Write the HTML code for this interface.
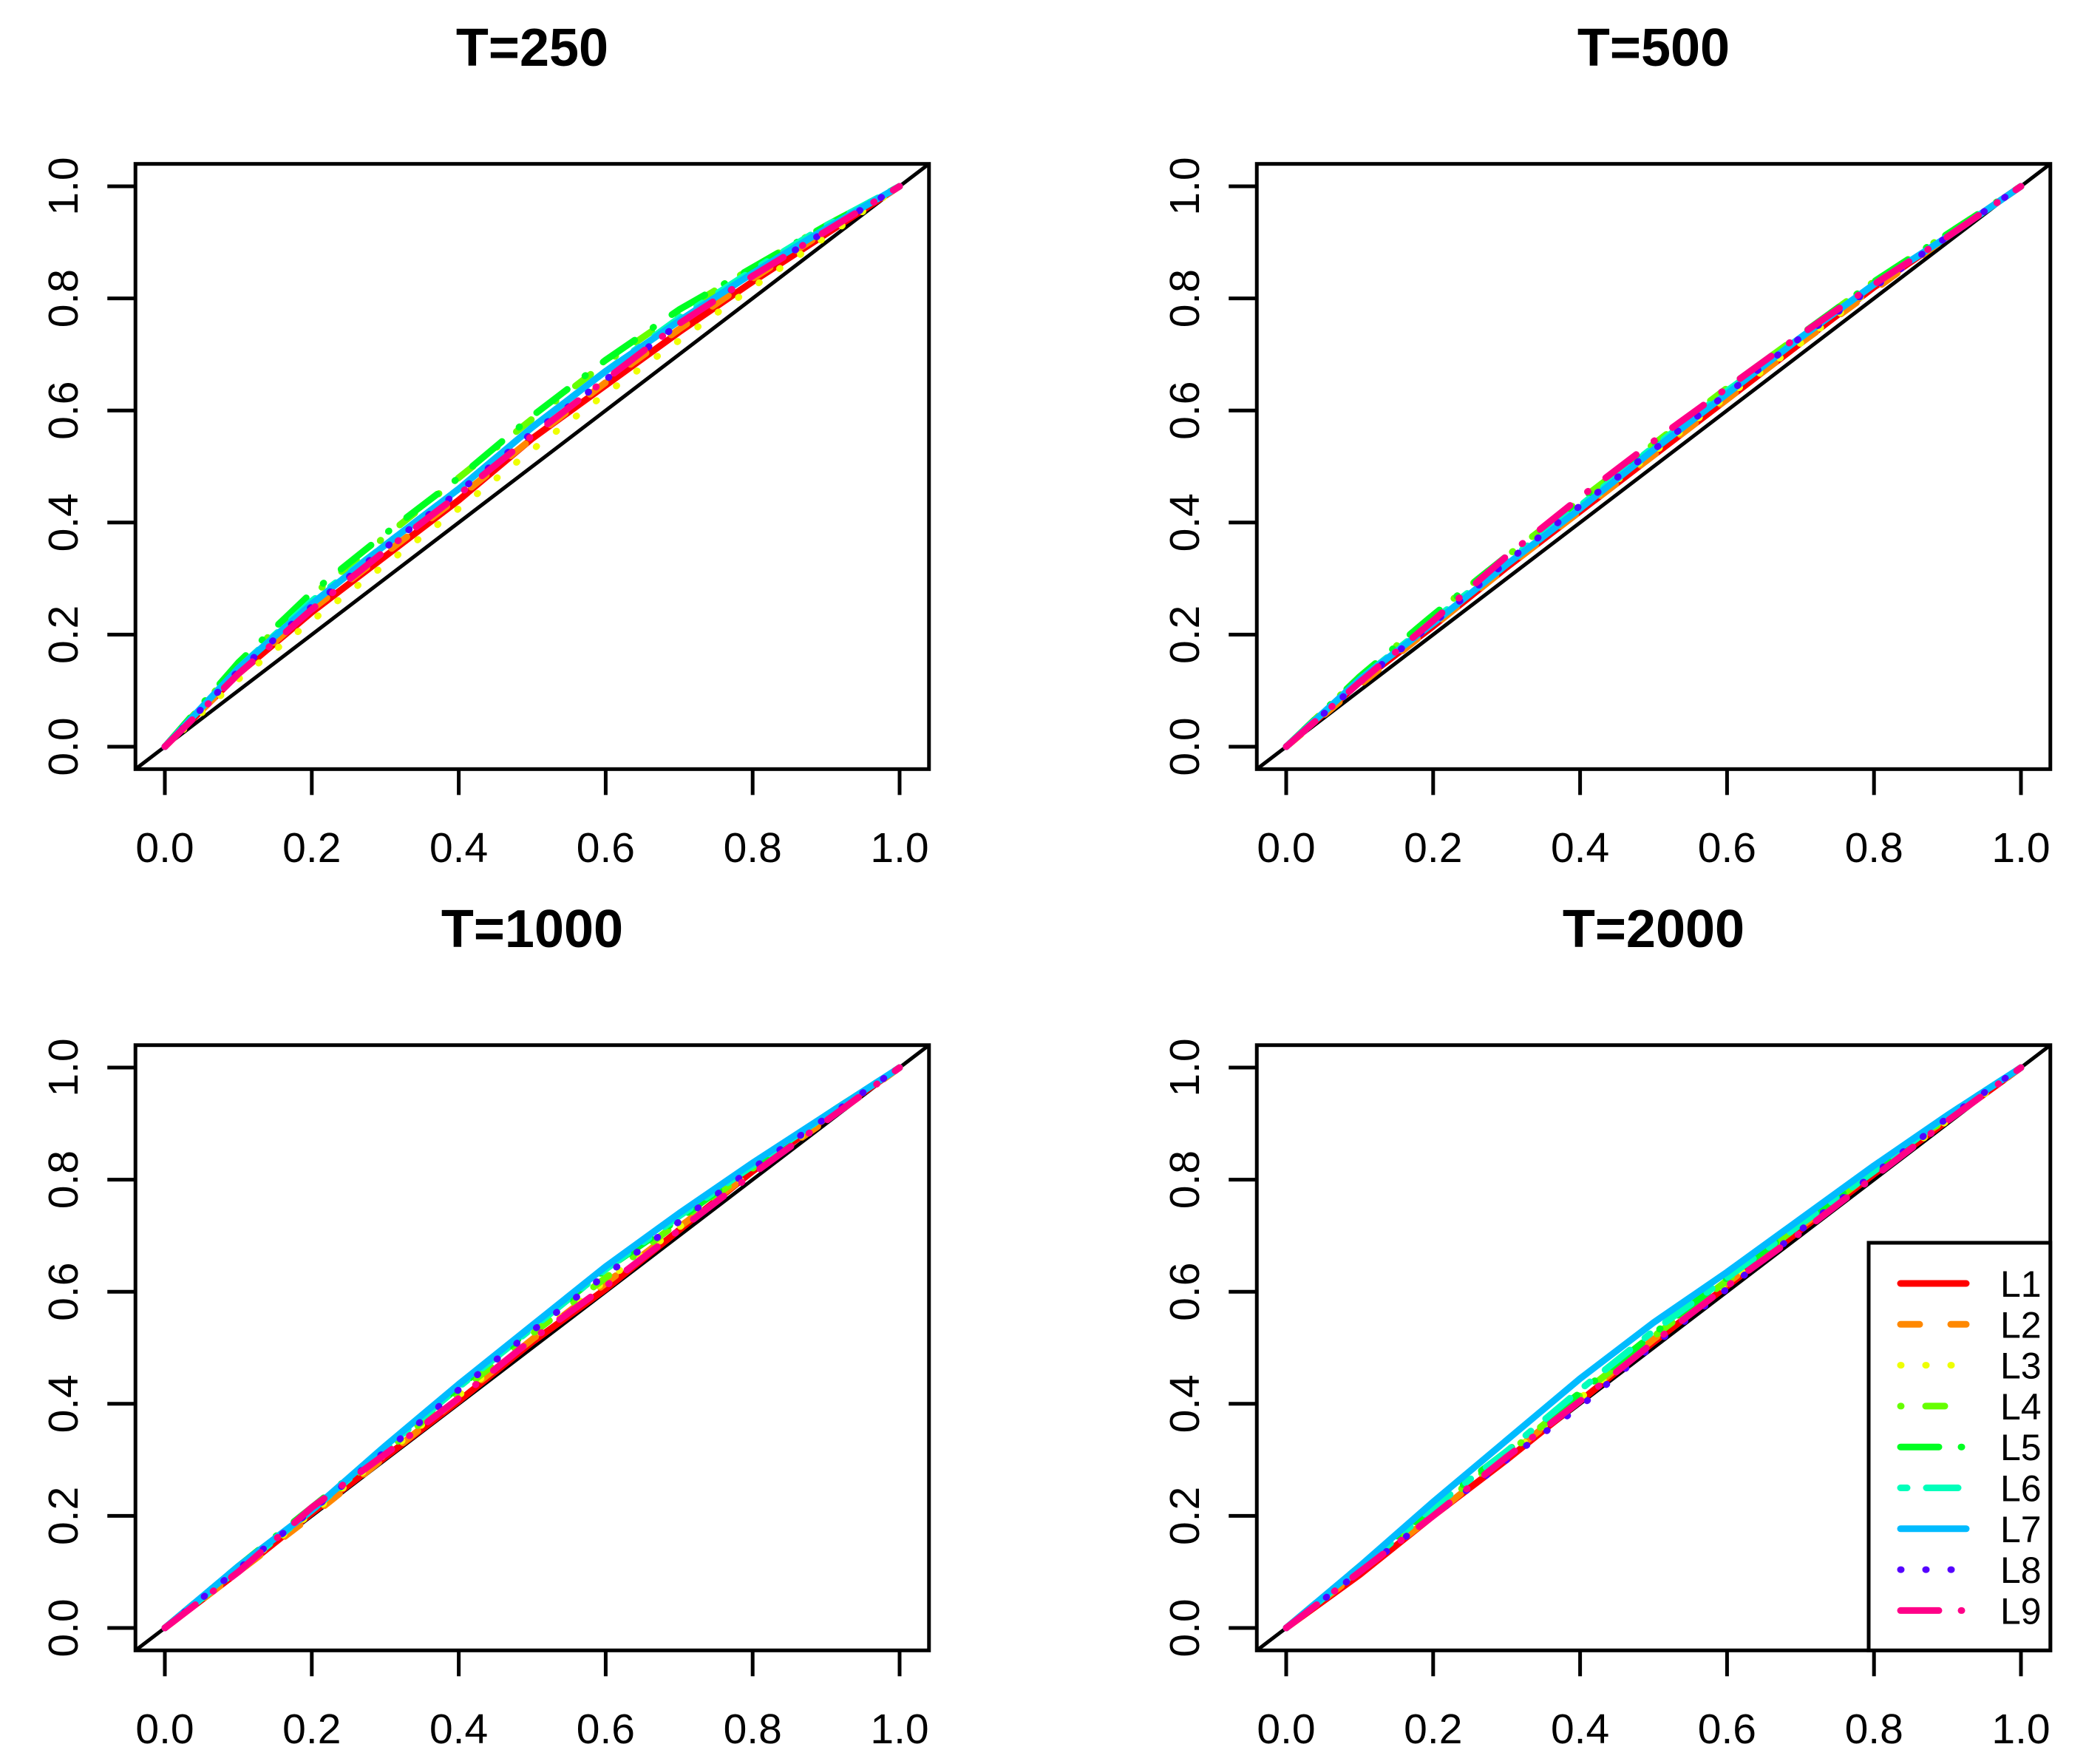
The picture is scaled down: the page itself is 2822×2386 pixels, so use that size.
<!DOCTYPE html>
<html><head><meta charset="utf-8"><style>
html,body{margin:0;padding:0;background:#fff}
svg{display:block}
text{font-family:"Liberation Sans",Arial,sans-serif}
</style></head><body>
<svg id="chart" xmlns="http://www.w3.org/2000/svg" width="2822" height="2386" viewBox="0 0 2822 2386"></svg>
<script>
const panelTitles = ["T=250","T=500","T=1000","T=2000"];
const seriesNames = ["L1","L2","L3","L4","L5","L6","L7","L8","L9"];
const xGrid = [0,0.1,0.2,0.3,0.4,0.5,0.6,0.7,0.8,0.9,1];
const tickLabels = ["0.0","0.2","0.4","0.6","0.8","1.0"];
const tickValues = [0,0.2,0.4,0.6,0.8,1];
const p1 = [
 [0,.13,.24,.34,.44,.55,.645,.74,.83,.915,1],
 [0,.13,.245,.345,.445,.55,.65,.745,.835,.92,1],
 [0,.12,.225,.325,.425,.53,.63,.725,.82,.91,1],
 [0,.145,.27,.375,.48,.585,.685,.775,.855,.93,1],
 [0,.15,.275,.38,.48,.59,.69,.78,.855,.93,1],
 [0,.14,.26,.36,.46,.57,.67,.765,.85,.93,1],
 [0,.14,.255,.36,.46,.57,.67,.76,.845,.925,1],
 [0,.135,.25,.355,.455,.56,.655,.755,.84,.92,1],
 [0,.13,.245,.35,.45,.555,.655,.755,.84,.92,1]];
const p2 = [
 [0,.115,.215,.32,.42,.52,.62,.72,.82,.91,1],
 [0,.11,.215,.32,.42,.52,.62,.72,.815,.91,1],
 [0,.115,.22,.325,.425,.525,.625,.72,.82,.91,1],
 [0,.125,.235,.34,.44,.54,.64,.735,.83,.915,1],
 [0,.125,.235,.34,.44,.54,.64,.735,.83,.915,1],
 [0,.12,.225,.33,.43,.535,.635,.73,.825,.91,1],
 [0,.12,.22,.325,.425,.53,.63,.73,.825,.91,1],
 [0,.115,.22,.33,.43,.53,.63,.73,.82,.91,1],
 [0,.115,.225,.34,.445,.545,.64,.735,.825,.91,1]];
const p3 = [
 [0,.1,.205,.305,.405,.51,.605,.71,.815,.91,1],
 [0,.1,.2,.305,.41,.515,.615,.715,.815,.905,1],
 [0,.105,.205,.31,.415,.515,.62,.715,.815,.91,1],
 [0,.105,.21,.315,.42,.525,.625,.725,.82,.915,1],
 [0,.11,.215,.32,.43,.535,.64,.73,.825,.915,1],
 [0,.105,.21,.32,.43,.535,.64,.735,.825,.915,1],
 [0,.11,.21,.325,.435,.54,.645,.74,.83,.915,1],
 [0,.105,.21,.315,.425,.53,.63,.725,.82,.91,1],
 [0,.1,.215,.31,.41,.515,.61,.71,.81,.905,1]];
const p4 = [
 [0,.095,.2,.3,.405,.51,.61,.71,.81,.905,1],
 [0,.1,.2,.305,.41,.515,.615,.715,.815,.91,1],
 [0,.1,.205,.305,.41,.515,.615,.715,.81,.905,1],
 [0,.105,.21,.31,.415,.52,.62,.72,.815,.91,1],
 [0,.11,.215,.315,.42,.525,.625,.72,.815,.91,1],
 [0,.105,.215,.315,.425,.53,.625,.72,.815,.915,1],
 [0,.11,.225,.335,.445,.545,.635,.73,.825,.915,1],
 [0,.1,.2,.3,.395,.505,.605,.71,.81,.91,1],
 [0,.1,.2,.305,.405,.51,.61,.705,.805,.905,1]];
const panelData = [p1,p2,p3,p4];

const colors = ["#FF0000","#FF8800","#EEFF00","#66FF00","#00FF22","#00FFBB","#00BBFF","#5500FF","#FF0088"];
const dashes = ["", "26 42", "1 33", "1 33 26 41", "52 30 1 30", "9 26 43 26", "", "1 33", "52 30 1 30"];
const NS="http://www.w3.org/2000/svg";
const svg=document.getElementById('chart');
function mk(tag,attrs,parent){const e=document.createElementNS(NS,tag);for(const k in attrs)e.setAttribute(k,attrs[k]);(parent||svg).appendChild(e);return e;}

const offX=[0,1517,0,1517], offY=[0,0,1192,1192];
panelData.forEach((series,pi)=>{
  const ox=offX[pi], oy=offY[pi];
  const X0=223+ox, X1=1217+ox, Y0=1010+oy, Y1=252+oy;
  const sx=v=>X0+(X1-X0)*v, sy=v=>Y0+(Y1-Y0)*v;
  const L=sx(-0.04), R=sx(1.04), T=sy(1.04), B=sy(-0.04);
  const g=mk('g',{});
  
  
  const t=mk('text',{x:(L+R)/2,y:89+oy,'text-anchor':'middle','font-size':72,'font-weight':'bold'},g);
  t.textContent=panelTitles[pi];
  
  
  const clip=mk('clipPath',{id:'c'+pi},g); mk('rect',{x:L,y:T,width:R-L,height:B-T},clip);
  const pg=mk('g',{'clip-path':'url(#c'+pi+')'},g);
  const diag=mk('line',{x1:L,y1:B,x2:R,y2:T,stroke:'#000','stroke-width':5},pg);
  
  
  series.forEach((ys,si)=>{
    const pts=ys.map((y,i)=>sx(xGrid[i]).toFixed(1)+','+sy(y).toFixed(1)).join(' ');
    const pl=mk('polyline',{points:pts,fill:'none',stroke:colors[si],'stroke-width':9,'stroke-linecap':'round','stroke-linejoin':'round'},pg);
    if(dashes[si])pl.setAttribute('stroke-dasharray',dashes[si]);
    
    
  });
  const box=mk('rect',{x:L,y:T,width:R-L,height:B-T,fill:'none',stroke:'#000','stroke-width':5},g);
  
  
  tickValues.forEach((v,i)=>{
    mk('line',{x1:sx(v),y1:B,x2:sx(v),y2:B+35,stroke:'#000','stroke-width':5},g);
    const xl=mk('text',{x:sx(v),y:1166+oy,'text-anchor':'middle','font-size':57},g);
    xl.textContent=tickLabels[i];
    
    
    mk('line',{x1:L,y1:sy(v),x2:L-38,y2:sy(v),stroke:'#000','stroke-width':5},g);
    const yl=mk('text',{x:105+ox,y:sy(v),'text-anchor':'middle','font-size':57,transform:'rotate(-90 '+(105+ox)+' '+sy(v)+')'},g);
    yl.textContent=tickLabels[i];
    
    
  });
  if(pi===3){
    const lg=mk('g',{});
    
    
    mk('rect',{x:2528,y:1681,width:R-2528,height:B-1681,fill:'#fff',stroke:'#000','stroke-width':5},lg);
    seriesNames.forEach((n,si)=>{
      const y=1736+si*55.3;
      const ln=mk('line',{x1:2571,y1:y,x2:2660,y2:y,stroke:colors[si],'stroke-width':9,'stroke-linecap':'round'},lg);
      if(dashes[si])ln.setAttribute('stroke-dasharray',dashes[si]);
      
      
      const tx=mk('text',{x:2706,y:y+18,'font-size':50},lg);
      tx.textContent=n;
      
      
    });
  }
});
</script>
</body></html>
